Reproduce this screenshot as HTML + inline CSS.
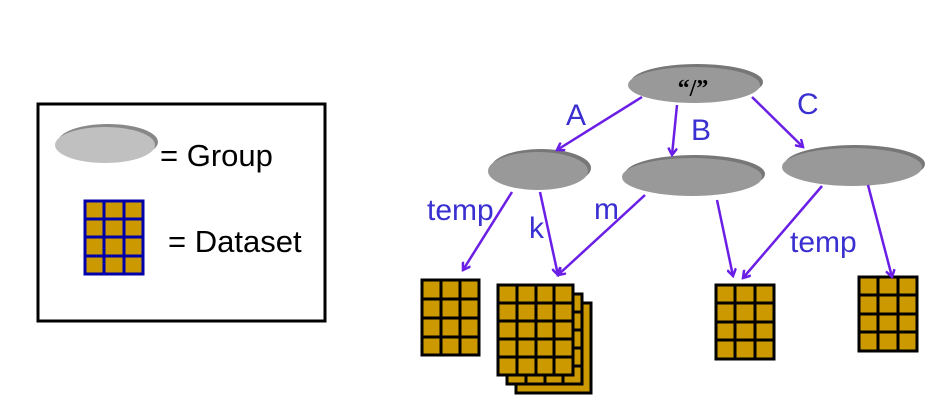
<!DOCTYPE html>
<html><head><meta charset="utf-8"><style>
html,body{margin:0;padding:0;background:#fff;width:933px;height:418px;overflow:hidden}
svg text{font-family:"Liberation Sans",sans-serif}
</style></head><body>
<svg width="933" height="418" viewBox="0 0 933 418" xmlns="http://www.w3.org/2000/svg">
<defs>
<marker id="ah" markerWidth="10" markerHeight="10" refX="8" refY="5" orient="auto" markerUnits="userSpaceOnUse">
<path d="M1,0.5 L8,5 L1,9.5" fill="none" stroke="#6a1ee6" stroke-width="2.5"/>
</marker>
</defs>
<!-- legend -->
<rect x="38" y="104" width="287" height="217" fill="#fff" stroke="#000" stroke-width="3"/>
<ellipse cx="108" cy="142" rx="50" ry="18" fill="#888"/>
<ellipse cx="105" cy="145" rx="50" ry="18" fill="#c0c0c0"/>
<text x="160" y="166" font-size="31">= Group</text>
<g stroke="#0000aa" stroke-width="3">
<rect x="85" y="201" width="58" height="73" fill="#cc9900"/>
<line x1="104" y1="201" x2="104" y2="274"/><line x1="124" y1="201" x2="124" y2="274"/>
<line x1="85" y1="219" x2="143" y2="219"/><line x1="85" y1="237" x2="143" y2="237"/><line x1="85" y1="256" x2="143" y2="256"/>
</g>
<text x="168" y="252" font-size="31">= Dataset</text>

<!-- groups -->
<ellipse cx="697" cy="82" rx="66" ry="18" fill="#777"/>
<ellipse cx="694" cy="85" rx="66" ry="18" fill="#999"/>
<text x="693" y="96" font-size="24" font-weight="bold" text-anchor="middle" style="font-family:'Liberation Serif',serif">“/”</text>
<ellipse cx="541" cy="168" rx="50" ry="19" fill="#777"/>
<ellipse cx="538" cy="171" rx="50" ry="19" fill="#999"/>
<ellipse cx="695" cy="174" rx="70" ry="19" fill="#777"/>
<ellipse cx="692" cy="177" rx="70" ry="19" fill="#999"/>
<ellipse cx="855" cy="164" rx="70" ry="19" fill="#777"/>
<ellipse cx="852" cy="167" rx="70" ry="19" fill="#999"/>

<!-- datasets -->
<g stroke="#000" stroke-width="3" fill="#cc9900">
<rect x="422" y="280" width="57" height="75"/>
<path d="M441,280V355M460,280V355M422,299H479M422,318H479M422,337H479" fill="none"/>

<rect x="516" y="303" width="75" height="90"/>
<rect x="507" y="294" width="75" height="90"/>
<path d="M526,294V384M545,294V384M563,294V384M507,312H582M507,330H582M507,348H582M507,366H582" fill="none"/>
<rect x="498" y="285" width="75" height="90"/>
<path d="M517,285V375M536,285V375M554,285V375M498,303H573M498,321H573M498,339H573M498,357H573" fill="none"/>

<rect x="716" y="285" width="58" height="74"/>
<path d="M735,285V359M755,285V359M716,303H774M716,322H774M716,340H774" fill="none"/>

<rect x="859" y="277" width="58" height="74"/>
<path d="M878,277V351M898,277V351M859,295H917M859,314H917M859,332H917" fill="none"/>
</g>

<!-- arrows -->
<g stroke="#6a1ee6" stroke-width="2.5" marker-end="url(#ah)">
<line x1="642" y1="97" x2="557" y2="150"/>
<line x1="677" y1="105" x2="672" y2="155"/>
<line x1="752" y1="97" x2="803" y2="147"/>
<line x1="512" y1="192" x2="463" y2="270"/>
<line x1="540" y1="192" x2="558" y2="275"/>
<line x1="645" y1="195" x2="558" y2="275"/>
<line x1="717" y1="200" x2="733" y2="276"/>
<line x1="822" y1="186" x2="743" y2="278"/>
<line x1="868" y1="185" x2="892" y2="277"/>
</g>

<!-- labels -->
<g fill="#3a2fd0" font-size="30">
<text x="566" y="125">A</text>
<text x="691" y="140">B</text>
<text x="797" y="114">C</text>
<text x="427" y="220">temp</text>
<text x="529" y="238">k</text>
<text x="594" y="219">m</text>
<text x="790" y="252">temp</text>
</g>
</svg>
</body></html>
